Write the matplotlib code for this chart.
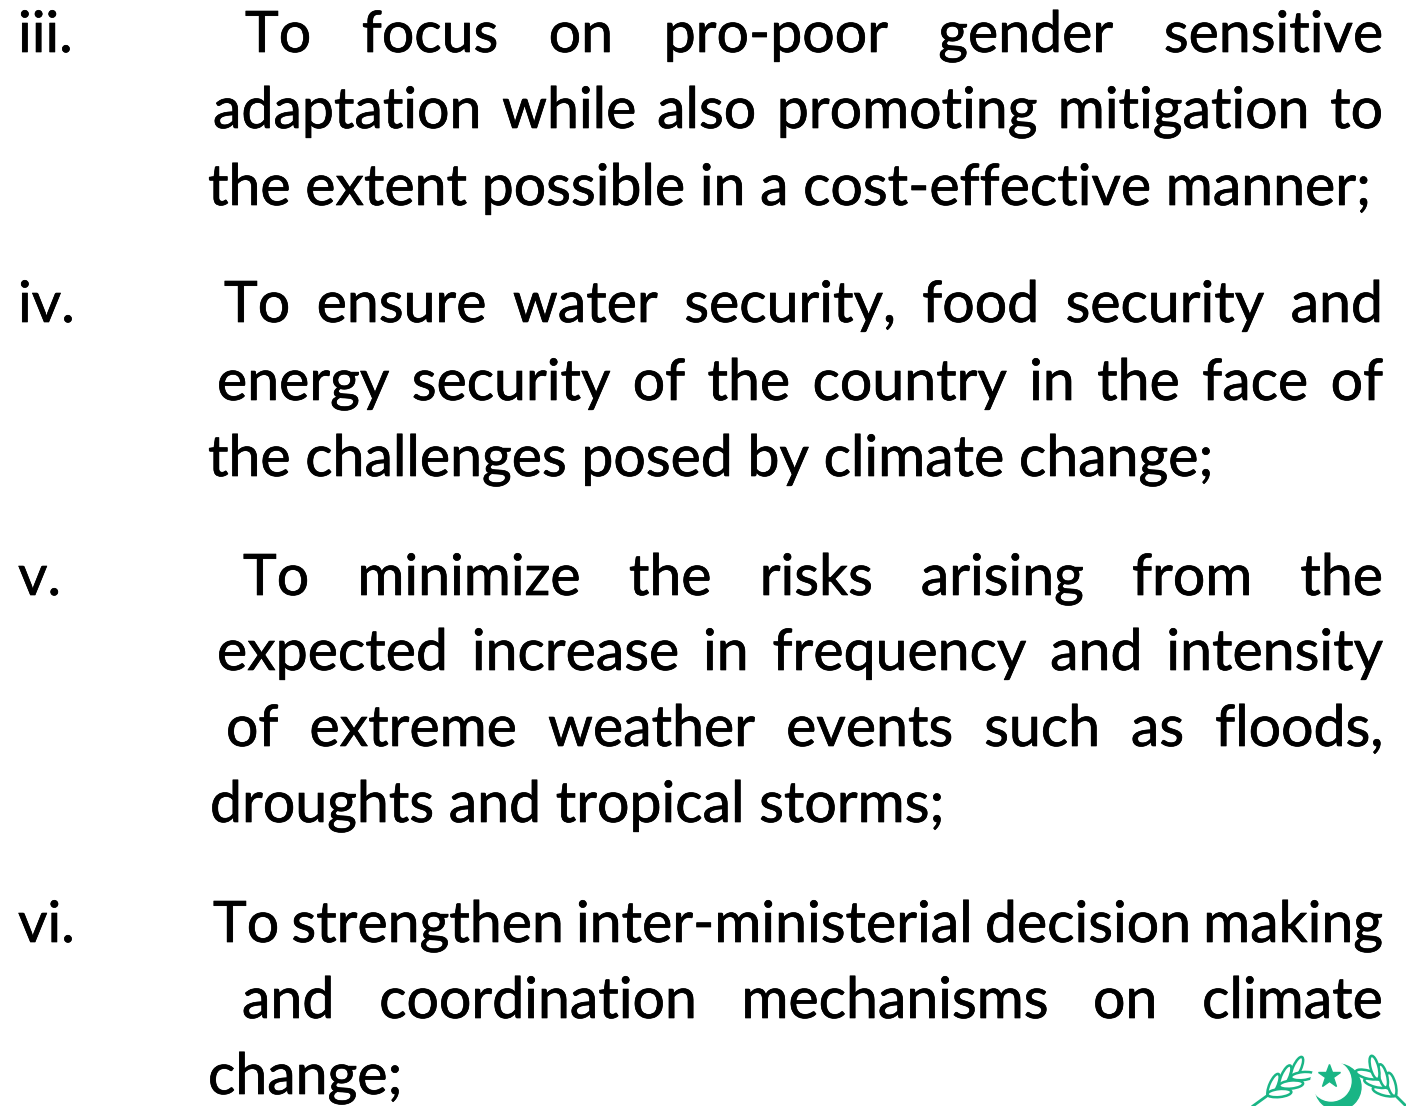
import matplotlib
matplotlib.use("Agg")
import matplotlib.pyplot as plt
import matplotlib.patheffects as pe
from matplotlib.patches import Circle, Ellipse
import numpy as np

# Texto de la diapositiva
markers = ["iii.", "iv.", "v.", "vi."]

para_lines = [
    ["To focus on pro-poor gender sensitive",
     "adaptation while also promoting mitigation to",
     "the extent possible in a cost-effective manner;"],
    ["To ensure water security, food security and",
     "energy security of the country in the face of",
     "the challenges posed by climate change;"],
    ["To minimize the risks arising from the",
     "expected increase in frequency and intensity",
     "of extreme weather events such as floods,",
     "droughts and tropical storms;"],
    ["To strengthen inter-ministerial decision making",
     "and coordination mechanisms on climate",
     "change;"],
]

# posiciones (pixeles)
line_left = [[245, 213, 208], [224, 217, 208], [243, 217, 226, 210], [213, 242, 208]]
line_base = [[52, 128, 205], [322, 400, 476], [595, 670, 746, 822], [942, 1018, 1094]]
right_edge = 1383
marker_x = 18
fuente = "Lato"
grueso = [pe.withStroke(linewidth=0.5, foreground="black")]

fig = plt.figure(figsize=(14.06, 11.06), dpi=100)
ax = fig.add_axes([0, 0, 1, 1])
ax.set_xlim(0, 1406)
ax.set_ylim(1106, 0)
ax.axis("off")
rend = fig.canvas.get_renderer()

def ancho(s, size):
    t = ax.text(0, 0, s, fontsize=size, family=fuente)
    w = t.get_window_extent(rend).width
    t.remove()
    return w

def texto(x, y, s, size):
    ax.text(x, y, s, fontsize=size, family=fuente, ha="left", va="baseline",
            color="black", path_effects=grueso)

# tamaño de letra ajustado a la linea mas larga sin justificar
ref = "the extent possible in a cost-effective manner;"
size = 40 * (1370 - 208) / ancho(ref, 40)

for i, lines in enumerate(para_lines):
    texto(marker_x, line_base[i][0], markers[i], size)
    for j, line in enumerate(lines):
        x0 = line_left[i][j]
        y = line_base[i][j]
        if j == len(lines) - 1:
            texto(x0, y, line, size)
            continue
        words = line.split()
        ws = [ancho(w, size) for w in words]
        gap = (right_edge - x0 - sum(ws)) / (len(words) - 1)
        x = x0
        for w, wd in zip(words, ws):
            texto(x, y, w, size)
            x += wd + gap

# logo verde (abajo a la derecha)
verde = "#19b585"
ax.add_patch(Circle((1338, 1087), 23, color=verde, zorder=3))
ax.add_patch(Circle((1331, 1081), 20, color="white", zorder=4))
ax.plot([1329], [1076], marker="*", markersize=17, color=verde, zorder=5)

def rama(x0, y0, x1, y1):
    ax.plot([x0, x1], [y0, y1], color=verde, lw=2, zorder=3)
    ang = np.degrees(np.arctan2(y1 - y0, x1 - x0))
    for f in (0.35, 0.6, 0.85):
        cx = x0 + (x1 - x0) * f
        cy = y0 + (y1 - y0) * f
        for s in (-1, 1):
            a = np.radians(ang + s * 30)
            ax.add_patch(Ellipse((cx + 10 * np.cos(a), cy + 10 * np.sin(a)), 24, 8,
                                 angle=ang + s * 30, facecolor="white",
                                 edgecolor=verde, lw=1.8, zorder=3))

rama(1253, 1106, 1300, 1072)
rama(1406, 1106, 1372, 1072)

fig.savefig("out.png", dpi=100)
